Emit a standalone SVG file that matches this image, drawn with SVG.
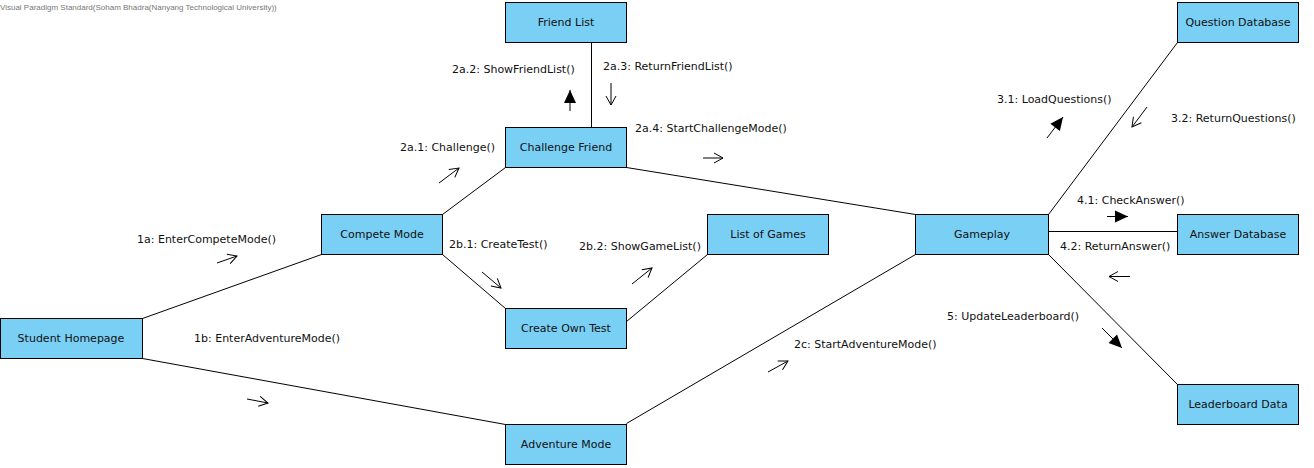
<svg xmlns="http://www.w3.org/2000/svg" width="1314" height="468" viewBox="0 0 1314 468">
<style>
.node rect{fill:#7ACFF5;stroke:#000;stroke-width:1}
.node text{font-family:"DejaVu Sans",Verdana,sans-serif;font-size:11px;fill:#111;text-anchor:middle}
.conn line{stroke:#000;stroke-width:1}
.lbl{font-family:"DejaVu Sans",Verdana,sans-serif;font-size:11px;fill:#111}
.msg{stroke:#000;stroke-width:1;fill:none}
.wm{font-family:"Liberation Sans",Arial,sans-serif;font-size:8px;fill:#777}
</style>
<defs>
<marker id="open" markerUnits="userSpaceOnUse" viewBox="-11 -7 13 14" markerWidth="13" markerHeight="14" refX="0" refY="0" orient="auto">
<path d="M-9,-5 L0,0 L-9,5" fill="none" stroke="#000" stroke-width="1"/>
</marker>
<marker id="filled" markerUnits="userSpaceOnUse" viewBox="-14 -7 15 14" markerWidth="15" markerHeight="14" refX="0" refY="0" orient="auto">
<path d="M-13,-6 L0,0 L-13,6 Z" fill="#000"/>
</marker>
</defs>
<rect width="1314" height="468" fill="#fff"/>
<text class="wm" x="0" y="10">Visual Paradigm Standard(Soham Bhadra(Nanyang Technological University))</text>
<g id="connectors" class="conn">
<line x1="142.5" y1="318.5" x2="321.5" y2="254.5"/>
<line x1="142.5" y1="358.5" x2="505.5" y2="424.5"/>
<line x1="442.5" y1="214.5" x2="505.5" y2="167.5"/>
<line x1="442.5" y1="254.5" x2="505.5" y2="308.5"/>
<line x1="591.5" y1="127.5" x2="591.5" y2="42.5"/>
<line x1="626.5" y1="167.5" x2="915.5" y2="214.5"/>
<line x1="626.5" y1="321.5" x2="707.5" y2="254.5"/>
<line x1="626.5" y1="423.5" x2="915.5" y2="254.5"/>
<line x1="1048.5" y1="214.5" x2="1177.5" y2="42.5"/>
<line x1="1048.5" y1="231.5" x2="1177.5" y2="231.5"/>
<line x1="1048.5" y1="254.5" x2="1177.5" y2="384.5"/>
</g>
<g id="messages">
<path class="msg" d="M570,111 L570,90" marker-end="url(#filled)"/>
<path class="msg" d="M611,83 L611,105" marker-end="url(#open)"/>
<path class="msg" d="M439,183 L459,168" marker-end="url(#open)"/>
<path class="msg" d="M703,158 L723,158" marker-end="url(#open)"/>
<path class="msg" d="M217,263 L237,256" marker-end="url(#open)"/>
<path class="msg" d="M247,399 L268,403" marker-end="url(#open)"/>
<path class="msg" d="M482,272 L501,288" marker-end="url(#open)"/>
<path class="msg" d="M632,284 L652,268" marker-end="url(#open)"/>
<path class="msg" d="M768,372 L788,361" marker-end="url(#open)"/>
<path class="msg" d="M1047,138 L1063,117" marker-end="url(#filled)"/>
<path class="msg" d="M1147,107 L1132,127" marker-end="url(#open)"/>
<path class="msg" d="M1107,216.5 L1128,216.5" marker-end="url(#filled)"/>
<path class="msg" d="M1130,276.5 L1109,276.5" marker-end="url(#open)"/>
<path class="msg" d="M1102,328 L1122,348" marker-end="url(#filled)"/>
</g>
<g id="labels">
<text class="lbl" x="452" y="73">2a.2: ShowFriendList()</text>
<text class="lbl" x="603" y="70">2a.3: ReturnFriendList()</text>
<text class="lbl" x="400" y="151">2a.1: Challenge()</text>
<text class="lbl" x="635" y="132">2a.4: StartChallengeMode()</text>
<text class="lbl" x="137" y="243">1a: EnterCompeteMode()</text>
<text class="lbl" x="194" y="342">1b: EnterAdventureMode()</text>
<text class="lbl" x="449" y="248">2b.1: CreateTest()</text>
<text class="lbl" x="579" y="250">2b.2: ShowGameList()</text>
<text class="lbl" x="794" y="348">2c: StartAdventureMode()</text>
<text class="lbl" x="997" y="103">3.1: LoadQuestions()</text>
<text class="lbl" x="1171" y="122">3.2: ReturnQuestions()</text>
<text class="lbl" x="1077" y="204">4.1: CheckAnswer()</text>
<text class="lbl" x="1060" y="250">4.2: ReturnAnswer()</text>
<text class="lbl" x="947" y="320">5: UpdateLeaderboard()</text>
</g>
<g id="friend-list" class="node"><rect x="505.5" y="2.5" width="121" height="40"/><text x="566" y="26">Friend List</text></g>
<g id="challenge-friend" class="node"><rect x="505.5" y="127.5" width="121" height="40"/><text x="566" y="151">Challenge Friend</text></g>
<g id="compete-mode" class="node"><rect x="321.5" y="214.5" width="121" height="40"/><text x="382" y="238">Compete Mode</text></g>
<g id="student-homepage" class="node"><rect x="0.5" y="318.5" width="142" height="40"/><text x="71" y="342">Student Homepage</text></g>
<g id="create-own-test" class="node"><rect x="505.5" y="308.5" width="121" height="40"/><text x="566" y="332">Create Own Test</text></g>
<g id="list-of-games" class="node"><rect x="707.5" y="214.5" width="121" height="40"/><text x="768" y="238">List of Games</text></g>
<g id="adventure-mode" class="node"><rect x="505.5" y="424.5" width="121" height="40"/><text x="566" y="448">Adventure Mode</text></g>
<g id="gameplay" class="node"><rect x="915.5" y="214.5" width="133" height="40"/><text x="982" y="238">Gameplay</text></g>
<g id="question-database" class="node"><rect x="1177.5" y="2.5" width="121" height="40"/><text x="1238" y="26">Question Database</text></g>
<g id="answer-database" class="node"><rect x="1177.5" y="214.5" width="121" height="40"/><text x="1238" y="238">Answer Database</text></g>
<g id="leaderboard-data" class="node"><rect x="1177.5" y="384.5" width="121" height="40"/><text x="1238" y="408">Leaderboard Data</text></g>
</svg>
